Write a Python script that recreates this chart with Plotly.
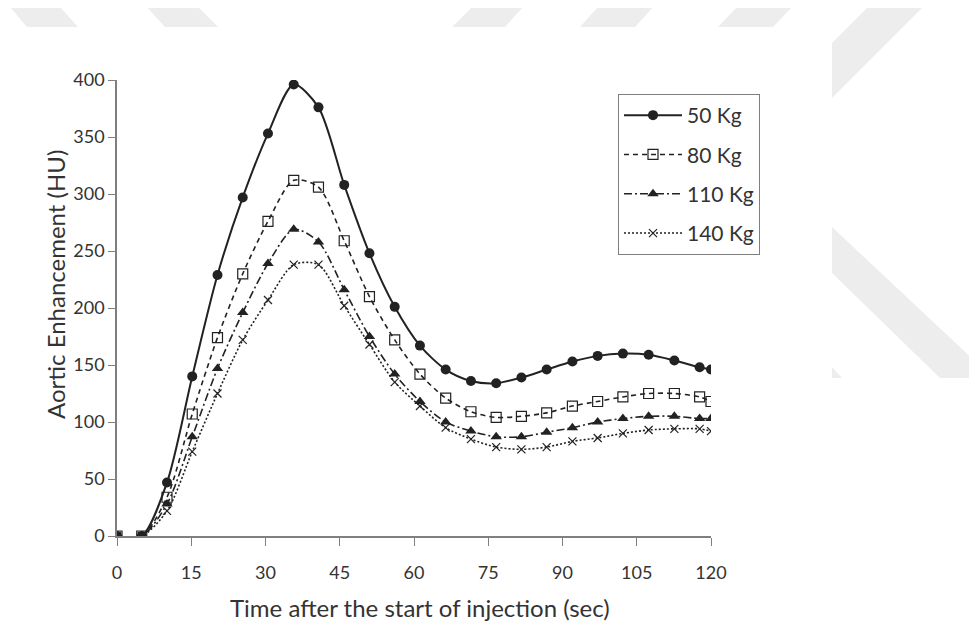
import plotly.graph_objects as go

time_sec = [0, 5.0, 10.1, 15.2, 20.3, 25.4, 30.5, 35.7, 40.7, 45.9, 51.0, 56.1, 61.2,
            66.4, 71.5, 76.6, 81.7, 86.8, 92.0, 97.1, 102.2, 107.4, 112.6, 117.7, 120]
kg50 = [0, 0, 47, 140, 229, 297, 353, 396, 376, 308, 248, 201, 167, 146, 136, 134,
        139, 146, 153, 158, 160, 159, 154, 148, 146]
kg80 = [0, 0, 34, 107, 174, 230, 276, 312, 306, 259, 210, 172, 142, 121, 109, 104,
        105, 108, 114, 118, 122, 125, 125, 122, 118]
kg110 = [0, 0, 28, 87, 147, 196, 239, 269, 258, 216, 175, 142, 118, 100, 92, 87,
         87, 91, 95, 100, 103, 105, 105, 103, 103]
kg140 = [0, 0, 22, 74, 125, 172, 207, 238, 238, 202, 168, 135, 114, 95, 85, 78,
         76, 78, 83, 86, 90, 93, 94, 94, 92]

series_names = ["50 Kg", "80 Kg", "110 Kg", "140 Kg"]
x_ticks = [0, 15, 30, 45, 60, 75, 90, 105, 120]
y_ticks = [0, 50, 100, 150, 200, 250, 300, 350, 400]
x_title = "Time after the start of injection (sec)"
y_title = "Aortic Enhancement (HU)"

FONT = "Lato"
INK = "#222222"
TXT = "#333333"

fig = go.Figure()
styles = [
    (kg50, "solid", 2.0, dict(symbol="circle", size=10, color=INK)),
    (kg80, "5px,4px", 1.6, dict(symbol="square-open", size=10, color=INK,
                                line=dict(width=1.2, color=INK))),
    (kg110, "8px,3px,2px,3px", 1.6, dict(symbol="triangle-up", size=10, color=INK)),
    (kg140, "2px,2px", 1.6, dict(symbol="x-thin-open", size=8, color=INK,
                                 line=dict(width=1.2, color=INK))),
]
for i, (vals, dash, lw, mk) in enumerate(styles):
    fig.add_trace(go.Scatter(
        x=time_sec, y=vals, name=series_names[i], mode="lines+markers",
        line=dict(color=INK, width=lw, dash=dash, shape="spline", smoothing=0.8),
        marker=mk, legendgroup="g%d" % i,
    ))

# Screen-pixel geometry of the plot area (page has an 8px body margin)
L, R, T, B = 117, 711, 80, 536
OFF = 8
def px(xp, yp):
    return (xp - L) / (R - L), (B - yp) / (B - T)

# Light grey watermark fragments in the page background
polys = [
    [(10, 7), (60, 7), (78, 27), (27, 27)],
    [(147, 7), (198, 7), (218, 27), (165, 27)],
    [(472, 7), (523, 7), (505, 27), (452, 27)],
    [(598, 7), (653, 7), (635, 27), (580, 27)],
    [(737, 7), (792, 7), (773, 27), (718, 27)],
    [(868, 7), (923, 7), (832, 98), (832, 43)],
    [(832, 227), (977, 363), (977, 378), (940, 378), (832, 273)],
    [(832, 367), (842, 378), (832, 378)],
]
shapes = []
for poly in polys:
    pts = [px(a, b) for a, b in poly]
    path = "M" + " L".join("%.4f,%.4f" % p for p in pts) + " Z"
    shapes.append(dict(type="path", xref="paper", yref="paper", path=path,
                       fillcolor="#ededed", line=dict(width=0), layer="below"))

xt_x, xt_y = px(420, 607)
yt_x, yt_y = px(55, 285)
annotations = [
    dict(text=x_title, xref="paper", yref="paper", x=xt_x, y=xt_y, showarrow=False,
         xanchor="center", yanchor="middle", font=dict(family=FONT, size=24, color=TXT)),
    dict(text=y_title, xref="paper", yref="paper", x=yt_x, y=yt_y, showarrow=False,
         textangle=-90, xanchor="center", yanchor="middle",
         font=dict(family=FONT, size=24, color=TXT)),
]

fig.update_layout(
    width=977, height=638,
    margin=dict(l=L - OFF, r=977 - (R - OFF), t=T - OFF, b=638 - (B - OFF)),
    paper_bgcolor="white", plot_bgcolor="rgba(0,0,0,0)",
    font=dict(family=FONT, size=18, color=TXT),
    showlegend=True,
    legend=dict(x=(618 - L) / (R - L), y=(B - 94) / (B - T), xanchor="left", yanchor="top",
                bordercolor="#7f7f7f", borderwidth=1, bgcolor="white",
                font=dict(family=FONT, size=21, color=TXT),
                itemwidth=58, tracegroupgap=9, traceorder="grouped"),
    shapes=shapes,
    annotations=annotations,
    xaxis=dict(range=[0, 120], tickvals=x_ticks, ticks="outside", ticklen=8,
               tickcolor="#7f7f7f", showline=True, linecolor="#7f7f7f", linewidth=1.5,
               showgrid=False, zeroline=False, ticklabelstandoff=12,
               tickfont=dict(size=18)),
    yaxis=dict(range=[0, 400], tickvals=y_ticks, ticks="outside", ticklen=7,
               tickcolor="#7f7f7f", showline=True, linecolor="#7f7f7f", linewidth=1.5,
               showgrid=False, zeroline=False, ticklabelstandoff=0,
               tickfont=dict(size=18)),
)
fig.write_html("out.html")
